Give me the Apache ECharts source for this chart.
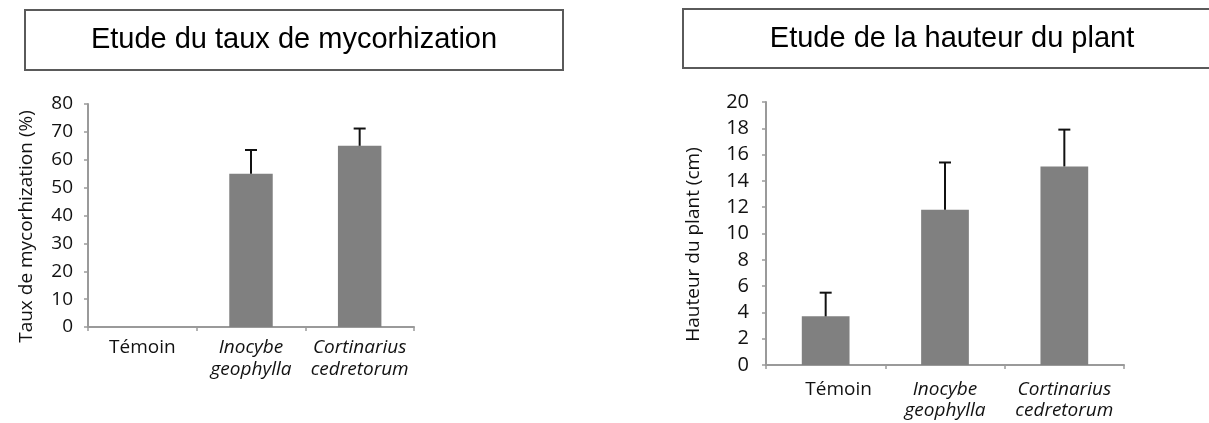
<!DOCTYPE html>
<html>
<head>
<meta charset="utf-8">
<title>Mycorhization et hauteur du plant</title>
<script src="https://cdn.jsdelivr.net/npm/echarts@6/dist/echarts.min.js"></script>
<style>
  html, body { margin: 0; padding: 0; background: #ffffff; }
  #chart { width: 1209px; height: 423px; }
</style>
</head>
<body>
<div id="chart"></div>
<script>
// Categories (italic flag marks the species names)
const categories = ['Témoin', 'Inocybe\ngeophylla', 'Cortinarius\ncedretorum'];
const italicCategory = [false, true, true];

// Taux de mycorhization (%) : moyenne et écart (barre d'erreur supérieure)
const mycoValues = [0, 55, 65];
const mycoErrors = [0, 8.5, 6.2];

// Hauteur du plant (cm) : moyenne et écart
const heightValues = [3.7, 11.8, 15.1];
const heightErrors = [1.8, 3.6, 2.8];

// Axis ranges
const mycoAxis = { min: 0, max: 80, interval: 10 };
const heightAxis = { min: 0, max: 20, interval: 2 };

const axisFont = 'Open Sans';
const axisGray = '#9a9a9a';
const barGray = '#808080';
const textColor = '#111111';

const chart = echarts.init(document.getElementById('chart'), null, { renderer: 'canvas' });

// Builds the rich-text label of a category; "shiftFirst" nudges the first label to the right
function categoryFormatter(shiftFirst) {
  return function (value, index) {
    let style = italicCategory[index] ? 'i' : 'n';
    if (index === 0 && shiftFirst) { style = 't'; }
    return value.split('\n').map(function (line) { return '{' + style + '|' + line + '}'; }).join('\n');
  };
}

function errorBarItem(params, api) {
  const idx = api.value(0);
  const val = api.value(1);
  const err = api.value(2);
  if (!err) { return null; }
  const base = api.coord([idx, val]);
  const top = api.coord([idx, val + err]);
  const half = 6;
  const style = { stroke: '#111111', lineWidth: 2 };
  return {
    type: 'group',
    children: [
      { type: 'line', shape: { x1: base[0], y1: base[1], x2: top[0], y2: top[1] }, style: style },
      { type: 'line', shape: { x1: top[0] - half, y1: top[1], x2: top[0] + half, y2: top[1] }, style: style }
    ]
  };
}

function makeCategoryAxis(gridIndex, labelMargin, lineHeight, shiftFirst) {
  return {
    type: 'category',
    gridIndex: gridIndex,
    data: categories,
    axisLine: { lineStyle: { color: axisGray, width: 2 } },
    axisTick: { show: true, length: 4, lineStyle: { color: axisGray, width: 1.5 } },
    axisLabel: {
      margin: labelMargin,
      interval: 0,
      formatter: categoryFormatter(shiftFirst),
      rich: {
        n: { fontFamily: axisFont, fontSize: 19, color: textColor, lineHeight: lineHeight },
        t: { fontFamily: axisFont, fontSize: 19, color: textColor, lineHeight: lineHeight, padding: [0, 0, 0, 26] },
        i: { fontFamily: axisFont, fontSize: 19, fontStyle: 'italic', color: textColor, lineHeight: lineHeight }
      }
    }
  };
}

function makeValueAxis(gridIndex, range, name, nameGap, labelMargin, labelSize) {
  return {
    type: 'value',
    gridIndex: gridIndex,
    min: range.min,
    max: range.max,
    interval: range.interval,
    name: name,
    nameLocation: 'middle',
    nameGap: nameGap,
    nameTextStyle: { fontFamily: axisFont, fontSize: 19, color: textColor, padding: [0, 22, 0, 0] },
    axisLine: { show: true, lineStyle: { color: axisGray, width: 2 } },
    axisTick: { show: true, length: 4, lineStyle: { color: axisGray, width: 1.5 } },
    splitLine: { show: false },
    axisLabel: { fontFamily: axisFont, fontSize: labelSize, color: textColor, margin: labelMargin }
  };
}

const option = {
  backgroundColor: '#ffffff',
  animation: false,
  graphic: [
    {
      type: 'rect',
      shape: { x: 25, y: 10, width: 538, height: 60 },
      style: { fill: '#ffffff', stroke: '#5a5a5a', lineWidth: 2 }
    },
    {
      type: 'text',
      x: 294, y: 40,
      style: {
        text: 'Etude du taux de mycorhization',
        fontFamily: 'Liberation Sans, Arial, sans-serif',
        fontSize: 29, fill: '#000000',
        align: 'center', verticalAlign: 'middle'
      }
    },
    {
      type: 'rect',
      shape: { x: 683, y: 9, width: 540, height: 59 },
      style: { fill: '#ffffff', stroke: '#5a5a5a', lineWidth: 2 }
    },
    {
      type: 'text',
      x: 952, y: 39,
      style: {
        text: 'Etude de la hauteur du plant',
        fontFamily: 'Liberation Sans, Arial, sans-serif',
        fontSize: 29, fill: '#000000',
        align: 'center', verticalAlign: 'middle'
      }
    }
  ],
  grid: [
    { left: 88, top: 104, width: 326, height: 223 },
    { left: 766, top: 102, width: 358, height: 263 }
  ],
  xAxis: [
    makeCategoryAxis(0, 10, 22, false),
    makeCategoryAxis(1, 14, 21, true)
  ],
  yAxis: [
    makeValueAxis(0, mycoAxis, 'Taux de mycorhization (%)', 52, 15, 19),
    makeValueAxis(1, heightAxis, 'Hauteur du plant (cm)', 63, 17, 20)
  ],
  series: [
    {
      type: 'bar',
      xAxisIndex: 0, yAxisIndex: 0,
      data: mycoValues,
      barWidth: '40%',
      itemStyle: { color: barGray },
      silent: true
    },
    {
      type: 'custom',
      xAxisIndex: 0, yAxisIndex: 0,
      data: categories.map(function (c, i) { return [i, mycoValues[i], mycoErrors[i]]; }),
      encode: { x: 0, y: 1 },
      renderItem: errorBarItem,
      z: 5,
      silent: true
    },
    {
      type: 'bar',
      xAxisIndex: 1, yAxisIndex: 1,
      data: heightValues,
      barWidth: '40%',
      itemStyle: { color: barGray },
      silent: true
    },
    {
      type: 'custom',
      xAxisIndex: 1, yAxisIndex: 1,
      data: categories.map(function (c, i) { return [i, heightValues[i], heightErrors[i]]; }),
      encode: { x: 0, y: 1 },
      renderItem: errorBarItem,
      z: 5,
      silent: true
    }
  ]
};

chart.setOption(option);
</script>
</body>
</html>
